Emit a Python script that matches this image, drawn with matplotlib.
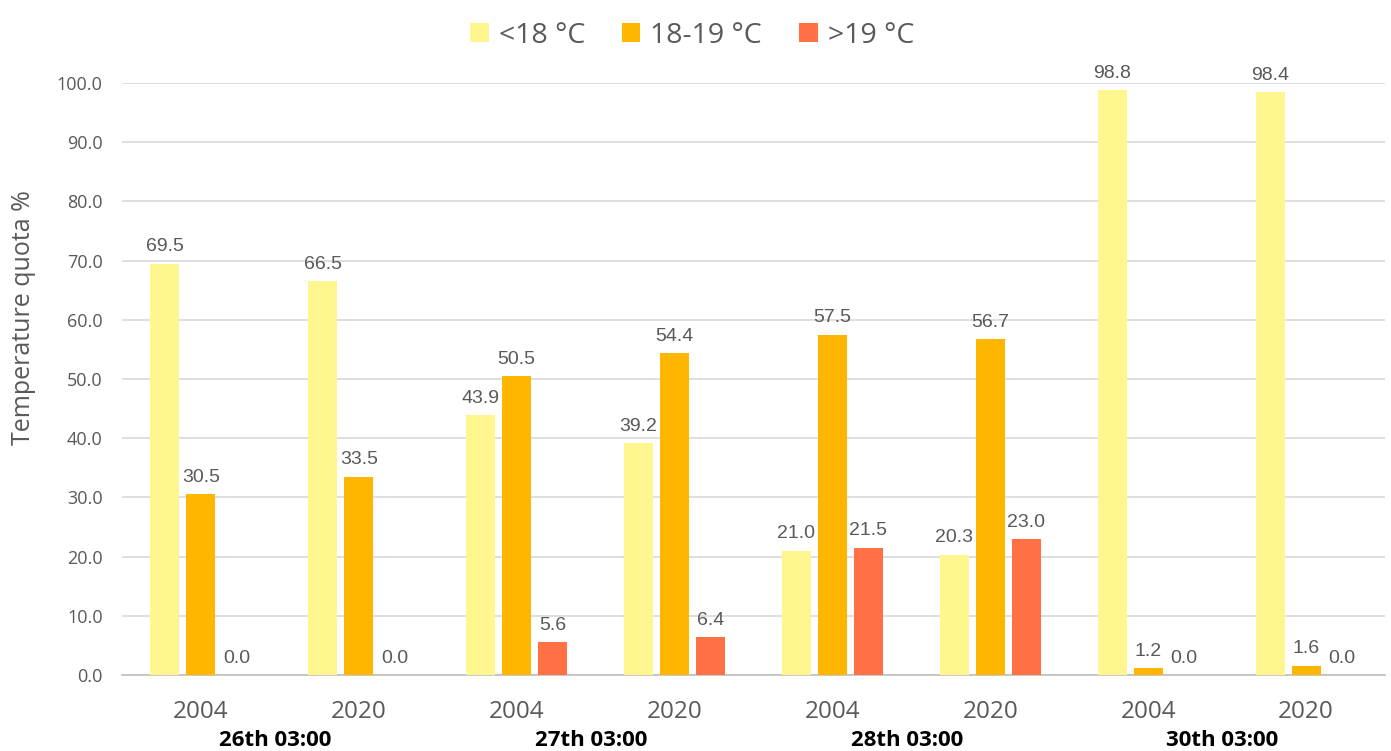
import numpy as np
import matplotlib.pyplot as plt

# share of area per temperature class, per snapshot and year
years = ["2004", "2020", "2004", "2020", "2004", "2020", "2004", "2020"]
dates = ["26th 03:00", "27th 03:00", "28th 03:00", "30th 03:00"]
below_18 = [69.5, 66.5, 43.9, 39.2, 21.0, 20.3, 98.8, 98.4]
between_18_19 = [30.5, 33.5, 50.5, 54.4, 57.5, 56.7, 1.2, 1.6]
above_19 = [0.0, 0.0, 5.6, 6.4, 21.5, 23.0, 0.0, 0.0]

series_names = ["<18 °C", "18-19 °C", ">19 °C"]
series_colors = ["#FFF68F", "#FFB600", "#FF7045"]
grey = "#595959"

fig = plt.figure(figsize=(13.91, 7.51), dpi=100)
ax = fig.add_axes([0.0877, 0.1012, 0.908, 0.7883])

x = np.arange(len(years))
width = 0.184
step = 0.228

for i, (vals, name, color) in enumerate(zip([below_18, between_18_19, above_19], series_names, series_colors)):
    bars = ax.bar(x + (i - 1) * step, vals, width, color=color, label=name, zorder=3)
    for b, v in zip(bars, vals):
        ax.annotate(f"{v:.1f}", (b.get_x() + b.get_width() / 2, v),
                    xytext=(0, 6), textcoords="offset points", ha="center", va="bottom",
                    fontsize=14, color=grey, family="Liberation Sans", annotation_clip=False)

ax.set_xlim(-0.5, len(years) - 0.5)
ax.set_ylim(0, 100)
ax.set_yticks(np.arange(0, 101, 10))
ax.set_yticklabels([f"{t:.1f}" for t in np.arange(0, 101, 10)], family="Open Sans", fontsize=13, color=grey)
ax.set_xticks(x)
ax.set_xticklabels(years, family="Open Sans", fontsize=17.5, color=grey)
ax.tick_params(axis="both", length=0)
ax.tick_params(axis="y", pad=14)
ax.tick_params(axis="x", pad=18)

ax.grid(axis="y", color="#D9D9D9", linewidth=1.2, zorder=0)
for s in ["top", "right", "left"]:
    ax.spines[s].set_visible(False)
ax.spines["bottom"].set_color("#BFBFBF")
ax.spines["bottom"].set_linewidth(1.2)

ax.set_ylabel("Temperature quota %", family="Open Sans", fontsize=18, color=grey)
ax.yaxis.set_label_coords(-0.068, 0.603)

# date labels under each pair of years
for j, d in enumerate(dates):
    ax.text(2 * j + 0.47, -0.11, d, transform=ax.get_xaxis_transform(), ha="center", va="center",
            fontsize=16, fontweight="bold", family="Open Sans", color="black")

leg = fig.legend(loc="upper center", bbox_to_anchor=(0.4975, 1.005), ncol=3, frameon=False,
                 prop={"family": "Open Sans", "size": 20.5}, handlelength=0.65, handleheight=0.65,
                 handletextpad=0.35, columnspacing=1.3)
for t in leg.get_texts():
    t.set_color(grey)

fig.savefig("out.png", dpi=100)
